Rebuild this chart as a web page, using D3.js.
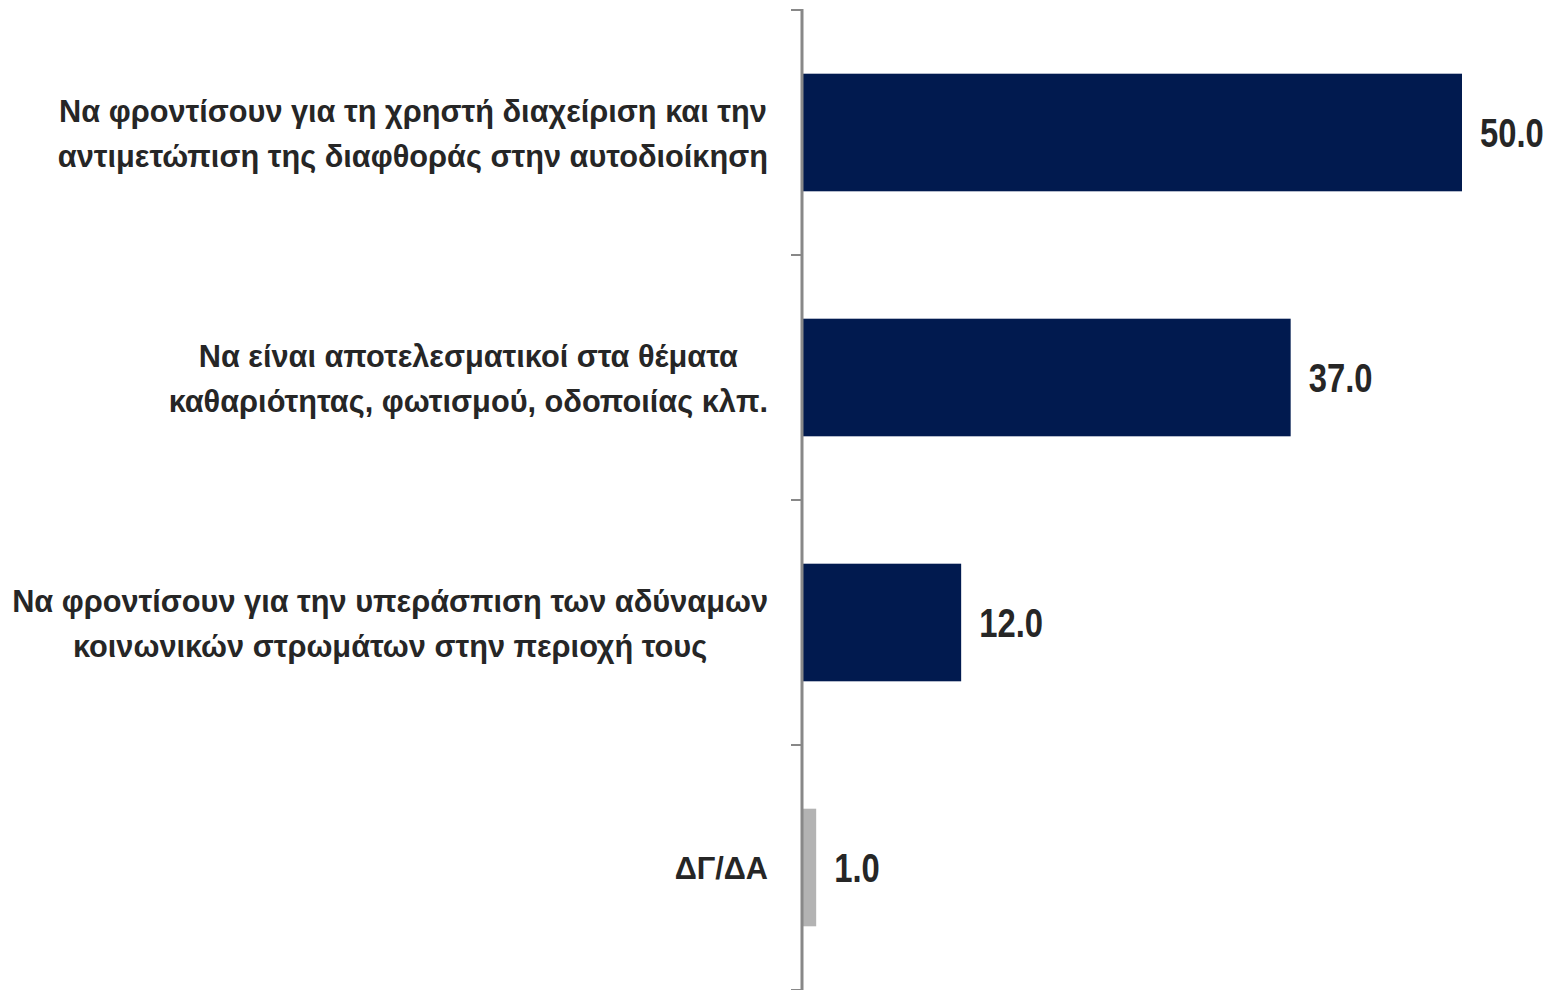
<!DOCTYPE html>
<html>
<head>
<meta charset="utf-8">
<script src="https://cdn.jsdelivr.net/npm/d3@7"></script>
<style>
  body { margin: 0; background: #fff; }
  svg text { font-family: "Liberation Sans Narrow", "Arial Narrow", "Liberation Sans", sans-serif; font-weight: bold; fill: #262626; }
</style>
</head>
<body>
<svg id="chart" width="1547" height="990"></svg>
<script>
// data
const categories = [
  ['Να φροντίσουν για τη χρηστή διαχείριση και την', 'αντιμετώπιση της διαφθοράς στην αυτοδιοίκηση'],
  ['Να είναι αποτελεσματικοί στα θέματα', 'καθαριότητας, φωτισμού, οδοποιίας κλπ.'],
  ['Να φροντίσουν για την υπεράσπιση των αδύναμων', 'κοινωνικών στρωμάτων στην περιοχή τους'],
  ['ΔΓ/ΔΑ']
];
const values = [50.0, 37.0, 12.0, 1.0];
const barColors = ['#011a4f', '#011a4f', '#011a4f', '#b3b3b3'];

const svg = d3.select('#chart');
const axisX = 802;
const labelRight = 768;
// no narrow font installed, so squeeze horizontally
const labelSqueeze = 0.96;
const valueSqueeze = 0.82;

const x = d3.scaleLinear().domain([0, 50]).range([axisX + 1, 1462]);
const y = d3.scaleBand()
  .domain(d3.range(categories.length))
  .range([10, 990])
  .paddingInner(0.52)
  .paddingOuter(0.26);

// bars
svg.append('g')
  .selectAll('rect')
  .data(values)
  .join('rect')
  .attr('x', x(0))
  .attr('y', (d, i) => y(i))
  .attr('width', d => x(d) - x(0))
  .attr('height', y.bandwidth())
  .attr('fill', (d, i) => barColors[i]);

// axis line + ticks at band boundaries
const bounds = d3.range(categories.length + 1).map(i => 10 + i * y.step());
const ax = svg.append('g').attr('stroke', '#888').attr('stroke-width', 3);
ax.append('line').attr('x1', axisX).attr('x2', axisX).attr('y1', 9).attr('y2', 990);
ax.selectAll('.tick')
  .data(bounds)
  .join('line')
  .attr('x1', axisX - 11).attr('x2', axisX)
  .attr('y1', d => d).attr('y2', d => d)
  .attr('stroke-width', 2);

// value labels
svg.append('g')
  .selectAll('text')
  .data(values)
  .join('text')
  .attr('transform', (d, i) => `translate(${x(d) + 18},${y(i) + y.bandwidth() / 2}) scale(${valueSqueeze},1)`)
  .attr('dy', '0.36em')
  .attr('font-size', 40)
  .text(d => d.toFixed(1));

// category labels, centred block aligned right
const lineH = 45;
categories.forEach((lines, i) => {
  const cy = y(i) + y.bandwidth() / 2;
  const g = svg.append('g')
    .attr('transform', `translate(${labelRight},0) scale(${labelSqueeze},1)`);
  const t = g.selectAll('text')
    .data(lines)
    .join('text')
    .attr('font-size', 32)
    .attr('text-anchor', 'middle')
    .attr('y', (d, j) => cy + (j - (lines.length - 1) / 2) * lineH)
    .attr('dy', '0.36em')
    .text(d => d);
  let maxW = 0;
  t.each(function () { maxW = Math.max(maxW, this.getComputedTextLength()); });
  t.attr('x', -maxW / 2);
});
</script>
</body>
</html>
